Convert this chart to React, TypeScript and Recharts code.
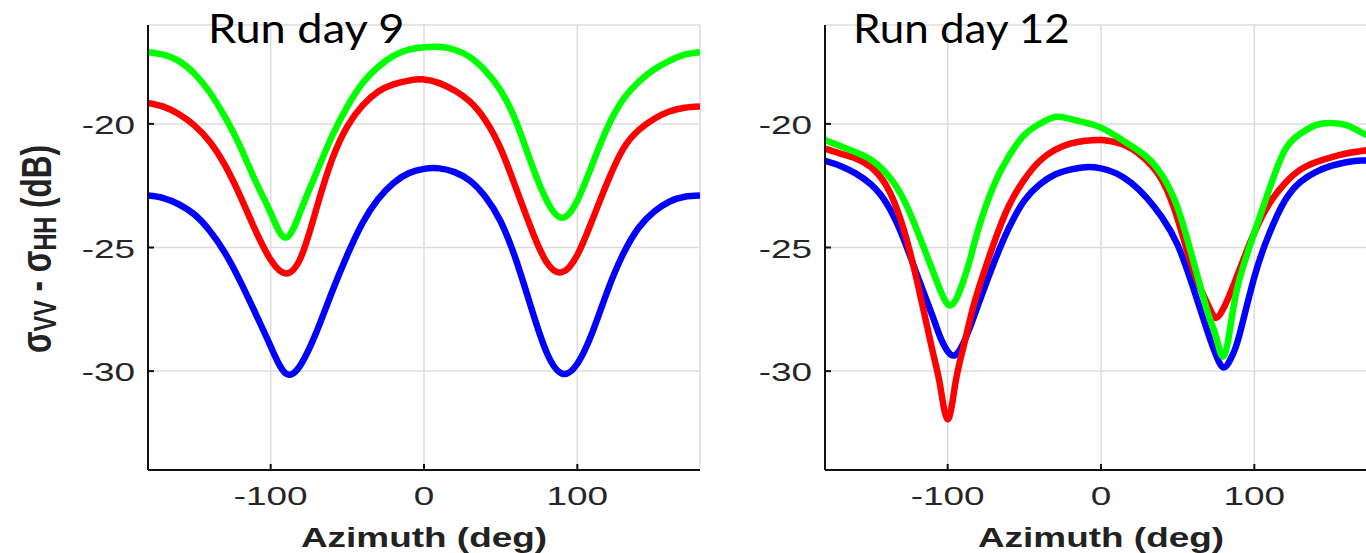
import { LineChart, Line, XAxis, YAxis, CartesianGrid } from "recharts";

// azimuth samples (deg) and sigma_VV - sigma_HH (dB)
const azimuthDay9 = [
  -180, -170, -160, -150, -140, -130, -120, -110, -100, -90, -80, -70, -60, -50, -40, -30, -20, -10, 0,
  10, 20, 30, 40, 50, 60, 70, 80, 90, 100, 110, 120, 130, 140, 150, 160, 170, 180,
];
const blueDay9 = [
  -22.9, -23.0, -23.25, -23.65, -24.3, -25.2, -26.35, -27.65, -29.0, -30.1, -29.7, -28.4, -26.8, -25.3, -24.0, -23.05, -22.4, -22.0, -21.82,
  -21.8, -21.95, -22.3, -22.95, -23.95, -25.5, -27.45, -29.25, -30.1, -29.7, -28.4, -26.7, -25.25, -24.2, -23.55, -23.15, -22.95, -22.9,
];
const redDay9 = [
  -19.15, -19.3, -19.6, -20.05, -20.7, -21.65, -22.9, -24.3, -25.5, -26.05, -25.35, -23.4, -21.45, -20.1, -19.25, -18.7, -18.4, -18.25, -18.2,
  -18.35, -18.65, -19.1, -19.85, -21.0, -22.6, -24.25, -25.6, -26.0, -25.3, -23.85, -22.3, -21.0, -20.25, -19.8, -19.5, -19.35, -19.3,
];
const greenDay9 = [
  -17.1, -17.2, -17.45, -17.95, -18.7, -19.7, -20.9, -22.3, -23.6, -24.6, -23.45, -21.95, -20.5, -19.3, -18.35, -17.7, -17.25, -17.0, -16.9,
  -16.88, -17.0, -17.3, -17.85, -18.65, -19.9, -21.6, -23.1, -23.8, -23.1, -21.6, -20.1, -19.0, -18.3, -17.8, -17.45, -17.2, -17.1,
];

const azimuthDay12 = [
  -180, -170, -160, -150, -140, -130, -120, -110, -105, -100, -95, -90, -85, -80, -70, -60, -50, -40, -30, -20, -10,
  0, 10, 20, 30, 40, 50, 60, 70, 75, 80, 85, 90, 100, 110, 120, 130, 140, 150, 160, 170, 180,
];
const blueDay12 = [
  -21.5, -21.7, -22.0, -22.45, -23.2, -24.45, -26.1, -27.75, -28.6, -29.2, -29.35, -28.9, -28.15, -27.3, -25.65, -24.2, -23.1, -22.45, -22.05, -21.85, -21.75,
  -21.8, -22.0, -22.4, -23.0, -23.8, -24.9, -26.6, -28.5, -29.35, -29.85, -29.45, -28.6, -26.2, -24.4, -23.1, -22.35, -21.95, -21.7, -21.55, -21.48, -21.5,
];
const redDay12 = [
  -21.0, -21.2, -21.4, -21.75, -22.5, -24.0, -26.35, -29.15, -30.55, -31.95, -30.5, -29.1, -27.8, -26.7, -24.85, -23.3, -22.25, -21.5, -21.05, -20.8, -20.68,
  -20.65, -20.75, -21.0, -21.5, -22.3, -23.85, -25.9, -27.35, -27.85, -27.45, -26.75, -25.95, -24.4, -23.2, -22.4, -21.85, -21.55, -21.35, -21.2, -21.1, -21.0,
];
const greenDay12 = [
  -20.65, -20.9, -21.15, -21.45, -22.0, -22.9, -24.3, -25.9, -26.7, -27.3, -27.15, -26.4, -25.4, -24.25, -22.5, -21.3, -20.45, -20.0, -19.72, -19.8, -19.95,
  -20.15, -20.5, -20.9, -21.35, -22.1, -23.4, -25.5, -27.7, -28.6, -29.4, -27.95, -26.35, -24.4, -22.6, -21.05, -20.4, -20.05, -19.96, -20.05, -20.35, -20.65,
];

const xTicks = [-100, 0, 100];
const yTicks = [-30, -25, -20];

const STRETCH = 1.42; // the source figure is stretched sideways
const FONT = "'Liberation Sans', Arial, Helvetica, sans-serif";
const TITLE_FONT = "Lato, 'Open Sans', sans-serif";

function rows(az: number[], blue: number[], red: number[], green: number[]) {
  return az.map((a, i) => ({ az: a, blue: blue[i], red: red[i], green: green[i] }));
}

const XTick = (props: any) => {
  const { x, y, payload } = props;
  return (
    <g>
      <line x1={x} x2={x} y1={y} y2={y - 6} stroke="#111" strokeWidth={2} />
      <text
        transform={`translate(${x},${y + 35}) scale(${STRETCH},1)`}
        textAnchor="middle"
        fontFamily={FONT}
        fontSize={26}
        fill="#262626"
      >
        {payload.value}
      </text>
    </g>
  );
};

const YTick = (props: any) => {
  const { x, y, payload } = props;
  return (
    <g>
      <line x1={x} x2={x + 6} y1={y} y2={y} stroke="#111" strokeWidth={2} />
      <text
        transform={`translate(${x - 13},${y + 10}) scale(${STRETCH},1)`}
        textAnchor="end"
        fontFamily={FONT}
        fontSize={26}
        fill="#262626"
      >
        {payload.value}
      </text>
    </g>
  );
};

const XLabel = (props: any) => {
  const vb = props.viewBox;
  return (
    <text
      transform={`translate(${vb.x + vb.width / 2},${vb.y + 77}) scale(1.32,1)`}
      textAnchor="middle"
      fontFamily={FONT}
      fontWeight="bold"
      fontSize={28}
      fill="#222"
    >
      Azimuth (deg)
    </text>
  );
};

function Panel({ data }: { data: any[] }) {
  return (
    <LineChart width={720} height={553} data={data} margin={{ top: 25, right: 20, bottom: 23, left: 0 }}>
      <CartesianGrid stroke="#dcdcdc" strokeWidth={1.5} />
      <XAxis
        dataKey="az"
        type="number"
        domain={[-180, 180]}
        ticks={xTicks}
        allowDataOverflow
        height={60}
        tickSize={0}
        tickMargin={0}
        tickLine={false}
        axisLine={{ stroke: "#111", strokeWidth: 2 }}
        tick={<XTick />}
        label={{ content: <XLabel /> }}
      />
      <YAxis
        type="number"
        domain={[-34, -16]}
        ticks={yTicks}
        allowDataOverflow
        width={148}
        tickSize={0}
        tickMargin={0}
        tickLine={false}
        axisLine={{ stroke: "#111", strokeWidth: 2 }}
        tick={<YTick />}
      />
      <Line type="natural" dataKey="blue" stroke="#0000ff" strokeWidth={6.5} dot={false} activeDot={false} isAnimationActive={false} />
      <Line type="natural" dataKey="red" stroke="#ff0000" strokeWidth={6.5} dot={false} activeDot={false} isAnimationActive={false} />
      <Line type="natural" dataKey="green" stroke="#00ff00" strokeWidth={6.5} dot={false} activeDot={false} isAnimationActive={false} />
    </LineChart>
  );
}

export default function App() {
  const day9 = rows(azimuthDay9, blueDay9, redDay9, greenDay9);
  const day12 = rows(azimuthDay12, blueDay12, redDay12, greenDay12);
  return (
    <div style={{ position: "absolute", left: 0, top: 0, width: 1366, height: 553, overflow: "hidden", background: "#fff" }}>
      <div style={{ position: "absolute", left: 0, top: 0 }}>
        <Panel data={day9} />
      </div>
      <div style={{ position: "absolute", left: 677, top: 0 }}>
        <Panel data={day12} />
      </div>
      <svg width={1366} height={553} style={{ position: "absolute", left: 0, top: 0, pointerEvents: "none" }}>
        <text
          transform="translate(51,249) scale(1.33,1) rotate(-90)"
          textAnchor="middle"
          fontFamily={FONT}
          fontWeight="bold"
          fontSize={31.5}
          fill="#222"
        >
          σ<tspan fontSize={23.5} dy={4}>VV</tspan>
          <tspan dy={-4}> - σ</tspan>
          <tspan fontSize={23.5} dy={4}>HH</tspan>
          <tspan dy={-4}> (dB)</tspan>
        </text>
        <text transform="translate(208,43) scale(1.13,1)" fontFamily={TITLE_FONT} fontSize={40} fill="#000">
          Run day 9
        </text>
        <text transform="translate(853,43) scale(1.1,1)" fontFamily={TITLE_FONT} fontSize={40} fill="#000">
          Run day 12
        </text>
      </svg>
    </div>
  );
}
